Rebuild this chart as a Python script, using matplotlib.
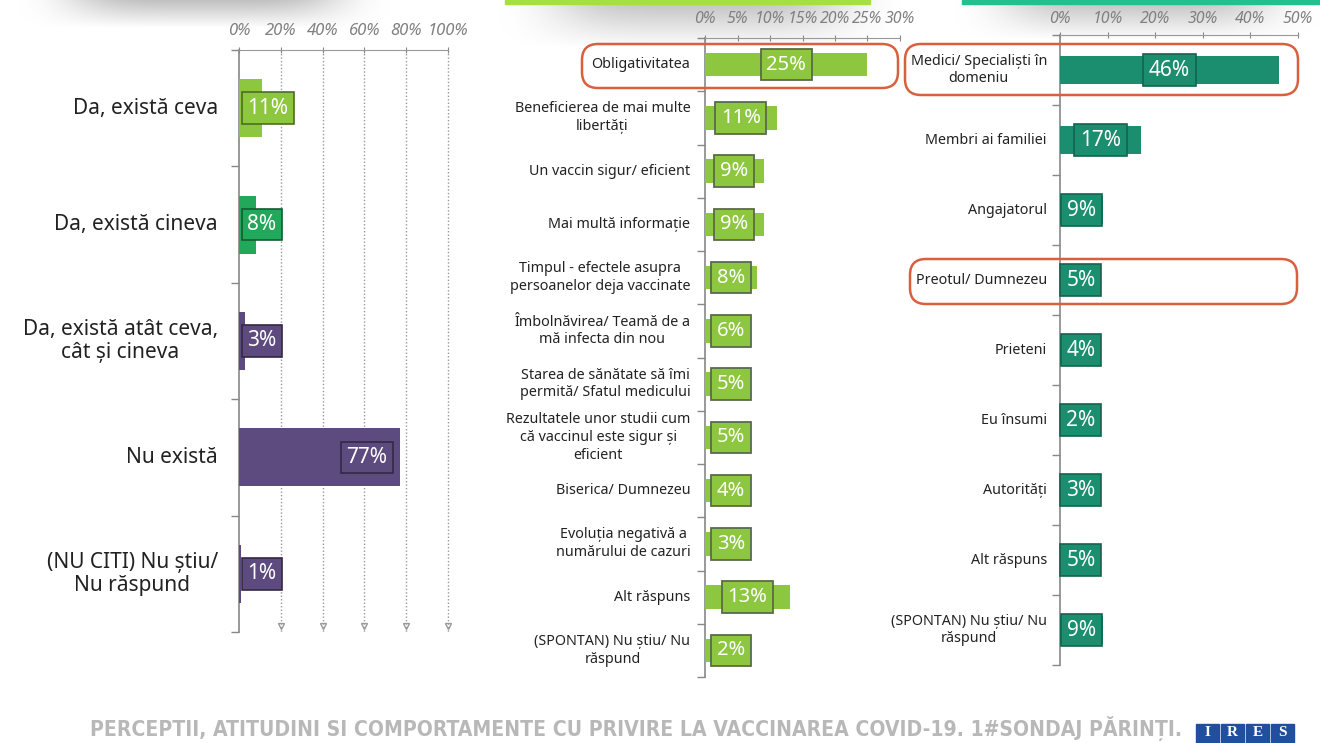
import numpy as np
import matplotlib
matplotlib.use("Agg")
import matplotlib.pyplot as plt
from matplotlib.patches import FancyBboxPatch, Rectangle
from matplotlib.transforms import IdentityTransform

plt.rcParams['font.family'] = ['Noto Sans', 'DejaVu Sans']

# ---- data ----
left_labels = ['Da, există ceva', 'Da, există cineva', 'Da, există atât ceva,\ncât și cineva',
               'Nu există', '(NU CITI) Nu știu/\nNu răspund']
left_values = [11, 8, 3, 77, 1]
left_ticks = [0, 20, 40, 60, 80, 100]

mid_labels = ['Obligativitatea', 'Beneficierea de mai multe\nlibertăți', 'Un vaccin sigur/ eficient',
              'Mai multă informație', 'Timpul - efectele asupra\npersoanelor deja vaccinate',
              'Îmbolnăvirea/ Teamă de a\nmă infecta din nou',
              'Starea de sănătate să îmi\npermită/ Sfatul medicului',
              'Rezultatele unor studii cum\ncă vaccinul este sigur și\neficient',
              'Biserica/ Dumnezeu', 'Evoluția negativă a\nnumărului de cazuri',
              'Alt răspuns', '(SPONTAN) Nu știu/ Nu\nrăspund']
mid_values = [25, 11, 9, 9, 8, 6, 5, 5, 4, 3, 13, 2]
mid_ticks = [0, 5, 10, 15, 20, 25, 30]

right_labels = ['Medici/ Specialiști în\ndomeniu', 'Membri ai familiei', 'Angajatorul',
                'Preotul/ Dumnezeu', 'Prieteni', 'Eu însumi', 'Autorități', 'Alt răspuns',
                '(SPONTAN) Nu știu/ Nu\nrăspund']
right_values = [46, 17, 9, 5, 4, 2, 3, 5, 9]
right_ticks = [0, 10, 20, 30, 40, 50]

footer = 'PERCEPTII, ATITUDINI SI COMPORTAMENTE CU PRIVIRE LA VACCINAREA COVID-19. 1#SONDAJ PĂRINȚI.'

LIME = '#8dc63f'
GREEN = '#22a85a'
PURPLE = '#5d4a7e'
TEAL = '#1b8e6f'
left_colors = [LIME, GREEN, PURPLE, PURPLE, PURPLE]
RED = '#d9603f'

W, H = 1320, 743
fig = plt.figure(figsize=(W / 100, H / 100), dpi=100)
fig.patch.set_facecolor('white')


def px_axes(x0, x1, y0, y1):
    # pixel box (top-left origin) -> figure axes
    return fig.add_axes([x0 / W, 1 - y1 / H, (x1 - x0) / W, (y1 - y0) / H])


def darker(c, f=0.6):
    r, g, b = matplotlib.colors.to_rgb(c)
    return (r * f, g * f, b * f)


def setup_axis(ax, ticks, n, tick_size, tick_pad):
    ax.set_xlim(ticks[0], ticks[-1])
    ax.set_ylim(n - 0.5, -0.5)
    ax.xaxis.tick_top()
    ax.set_xticks(ticks)
    ax.set_xticklabels([f'{t}%' for t in ticks], fontsize=tick_size, style='italic', color='#808080')
    ax.tick_params(axis='x', length=4, direction='inout', color='#888888', pad=tick_pad)
    ax.set_yticks(np.arange(-0.5, n, 1.0))
    ax.set_yticklabels([])
    ax.tick_params(axis='y', length=6, color='#888888', width=1)
    for s in ['right', 'bottom']:
        ax.spines[s].set_visible(False)
    ax.spines['top'].set_linestyle((0, (1, 1)))
    ax.spines['top'].set_color('#999999')
    ax.spines['left'].set_color('#888888')
    ax.spines['left'].set_linewidth(1.2)
    ax.patch.set_alpha(0)


def labels(ax, names, size, xoff, ls):
    for i, name in enumerate(names):
        ax.text(xoff, i, name, ha='right', va='center', multialignment='center',
                fontsize=size, color='#222222', transform=ax.get_yaxis_transform(), linespacing=ls)


# ---- decorations at top ----
def shadow(x0, x1, y0, y1):
    a = px_axes(x0, x1, y0, y1)
    grad = np.linspace(0.55, 0, 50)[:, None] * np.ones((1, 10))
    edge = np.minimum(1, np.minimum(np.linspace(0, 4, 10), np.linspace(4, 0, 10)))[None, :]
    img = np.zeros((50, 10, 4))
    img[..., :3] = 0.55
    img[..., 3] = grad * edge
    a.imshow(img, aspect='auto', extent=[0, 1, 0, 1], interpolation='bicubic')
    a.axis('off')
    a.set_zorder(-5)


shadow(20, 390, 0, 28)
shadow(500, 900, 0, 48)
shadow(955, 1320, 0, 40)
fig.patches.append(Rectangle((505, H - 4), 365, 4, transform=IdentityTransform(), color='#a6e040', zorder=2))
fig.patches.append(Rectangle((962, H - 4), 358, 4, transform=IdentityTransform(), color='#22c08f', zorder=2))

# ---- panel 1 ----
ax1 = px_axes(239, 448, 50, 632)
setup_axis(ax1, left_ticks, len(left_values), 12, 6)
ax1.barh(range(len(left_values)), left_values, height=0.5, color=left_colors, zorder=3)
for t in left_ticks[1:]:
    ax1.plot([t, t], [-0.5, 4.5], ls=(0, (1, 1.5)), color='#999999', lw=1, zorder=1, clip_on=False)
    ax1.plot(t, 4.45, marker='v', ms=4, mfc='none', mec='#999999', clip_on=False, zorder=1)
for i, v in enumerate(left_values):
    if v < 20:
        x, ha = 4, 'left'
    else:
        x, ha = v - 6, 'right'
    ax1.text(x, i, f'{v}%', ha=ha, va='center', color='white', fontsize=15, zorder=5,
             bbox=dict(boxstyle='square,pad=0.25', fc=left_colors[i], ec=darker(left_colors[i], 0.55), lw=1.2))
labels(ax1, left_labels, 15, -0.1, 1.1)

# ---- panel 2 ----
ax2 = px_axes(705, 900, 38, 677)
setup_axis(ax2, mid_ticks, len(mid_values), 11.5, 6)
ax2.barh(range(len(mid_values)), mid_values, height=0.44, color=LIME, zorder=3)
for i, v in enumerate(mid_values):
    ax2.text(max(v / 2, 4.0), i, f'{v}%', ha='center', va='center', color='white', fontsize=14.5, zorder=5,
             bbox=dict(boxstyle='square,pad=0.28', fc=LIME, ec='#5a6b4a', lw=1.3))
labels(ax2, mid_labels, 10.3, -0.075, 1.25)

# ---- panel 3 ----
ax3 = px_axes(1060, 1298, 35, 665)
setup_axis(ax3, right_ticks, len(right_values), 11.5, 4)
ax3.barh(range(len(right_values)), right_values, height=0.4, color=TEAL, zorder=3)
for i, v in enumerate(right_values):
    ax3.text(max(v / 2, 4.4), i, f'{v}%', ha='center', va='center', color='white', fontsize=15, zorder=5,
             bbox=dict(boxstyle='square,pad=0.28', fc=TEAL, ec=darker(TEAL, 0.7), lw=1.2))
labels(ax3, right_labels, 10.3, -0.055, 1.25)

# ---- red highlight boxes ----
for (x0, x1, y0, y1) in [(582, 898, 44, 88), (905, 1298, 44, 95), (910, 1297, 259, 304)]:
    fig.patches.append(FancyBboxPatch((x0, H - y1), x1 - x0, y1 - y0,
                                      boxstyle='round,pad=0,rounding_size=16',
                                      transform=IdentityTransform(), fc='none', ec=RED, lw=1.8, zorder=10))

# ---- footer ----
ft = fig.text(90 / W, 2 / H, footer, family=['DejaVu Sans'], stretch='condensed', weight='bold',
              fontsize=17, color='#b8b8b8', ha='left', va='bottom')
# shrink to fit the width used in the reference (90 -> 1180 px)
r = fig.canvas.get_renderer()
wpx = ft.get_window_extent(r).width
ft.set_fontsize(17 * min(1.0, 1090 / wpx))

for k, letter in enumerate('IRES'):
    x0 = 1196 + k * 25
    fig.patches.append(Rectangle((x0, 0), 23, 19, transform=IdentityTransform(), color='#1f4f9e'))
    fig.text((x0 + 11.5) / W, 1 - 733 / H, letter, family=['Liberation Serif', 'DejaVu Serif'],
             fontsize=11, color='white', ha='center', va='center', weight='bold')

fig.savefig('out.png', dpi=100)
